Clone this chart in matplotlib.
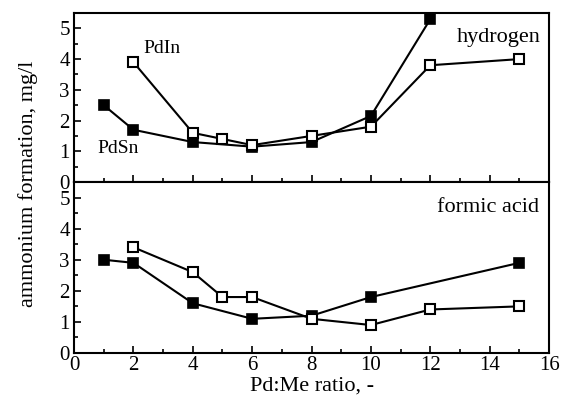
import matplotlib
matplotlib.use("Agg")
import matplotlib.pyplot as plt
from matplotlib.ticker import MultipleLocator

plt.rcParams['font.family'] = ['Liberation Serif', 'DejaVu Serif']

# hydrogen
h_sn_x = [1, 2, 4, 6, 8, 10, 12]
h_sn_y = [2.5, 1.7, 1.3, 1.15, 1.3, 2.15, 5.3]
h_in_x = [2, 4, 5, 6, 8, 10, 12, 15]
h_in_y = [3.9, 1.6, 1.4, 1.2, 1.5, 1.8, 3.8, 4.0]
# formic acid
f_sn_x = [1, 2, 4, 6, 8, 10, 15]
f_sn_y = [3.0, 2.9, 1.6, 1.1, 1.2, 1.8, 2.9]
f_in_x = [2, 4, 5, 6, 8, 10, 12, 15]
f_in_y = [3.4, 2.6, 1.8, 1.8, 1.1, 0.9, 1.4, 1.5]

fig = plt.figure(figsize=(5.61, 4.04), dpi=100)
ax1 = fig.add_axes([0.132, 0.5495, 0.8467, 0.4183])
ax2 = fig.add_axes([0.132, 0.1262, 0.8467, 0.4233], sharex=ax1)

def style(ax):
    ax.set_xlim(0, 16)
    ax.set_ylim(0, 5.5)
    ax.xaxis.set_major_locator(MultipleLocator(2))
    ax.xaxis.set_minor_locator(MultipleLocator(1))
    ax.yaxis.set_major_locator(MultipleLocator(1))
    ax.yaxis.set_minor_locator(MultipleLocator(0.5))
    ax.tick_params(which='both', direction='in', labelsize=15, width=1.2)
    ax.tick_params(which='major', length=5)
    ax.tick_params(which='minor', length=3)
    ax.tick_params(axis='y', pad=3)
    ax.tick_params(axis='x', pad=2)
    for s in ax.spines.values():
        s.set_linewidth(1.5)

kw_f = dict(color='black', lw=1.5, marker='s', ms=6.5, mfc='black', mec='black', mew=1.2)
kw_o = dict(color='black', lw=1.5, marker='s', ms=6.5, mfc='white', mec='black', mew=1.5)

ax1.plot(h_sn_x, h_sn_y, clip_on=False, zorder=3, **kw_f)
ax1.plot(h_in_x, h_in_y, clip_on=False, zorder=4, **kw_o)
ax2.plot(f_sn_x, f_sn_y, zorder=3, **kw_f)
ax2.plot(f_in_x, f_in_y, zorder=4, **kw_o)

style(ax1)
style(ax2)
plt.setp(ax1.get_xticklabels(), visible=False)

ax1.text(0.983, 0.858, 'hydrogen', transform=ax1.transAxes, ha='right', va='center', fontsize=16)
ax2.text(0.978, 0.848, 'formic acid', transform=ax2.transAxes, ha='right', va='center', fontsize=16)
ax1.text(2.32, 4.35, 'PdIn', fontsize=14, ha='left', va='center')
ax1.text(0.77, 1.1, 'PdSn', fontsize=14, ha='left', va='center')

ax2.set_xlabel('Pd:Me ratio, -', fontsize=16, labelpad=1)
fig.text(0.05, 0.545, 'ammonium formation, mg/l', rotation=90, ha='center', va='center', fontsize=16)

fig.savefig('out.png', dpi=100)
